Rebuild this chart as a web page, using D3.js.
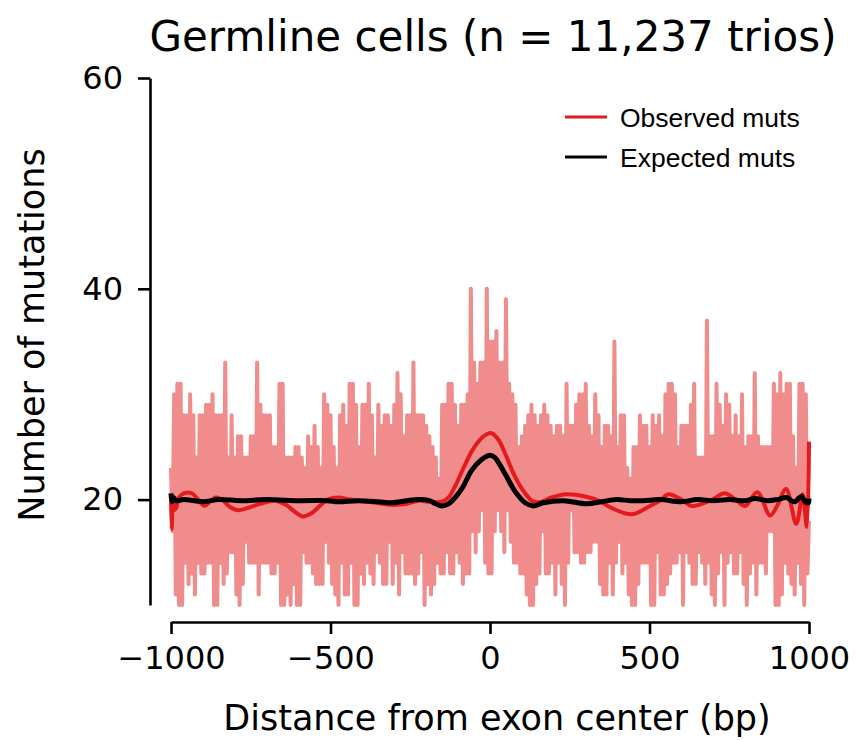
<!DOCTYPE html>
<html>
<head>
<meta charset="utf-8">
<script src="https://cdn.jsdelivr.net/npm/d3@7"></script>
<style>
  html, body { margin: 0; padding: 0; background: #fff; }
  svg { display: block; }
</style>
</head>
<body>
<svg id="chart" width="865" height="740"></svg>
<script>
// Per-base mutation counts around exon centres, sampled every 5 bp from -1000 to +1000.
const positionStart = -1000;
const positionStep = 5;
const observedCounts = [
  23,17, 30,11, 31,10, 31,10, 28,14, 28,12, 30,13, 28,11, 24,14, 28,13,
  28,13, 29,14, 29,14, 30,10, 28,10, 28,14, 28,12, 33,13, 24,15, 28,15,
  24,11, 26,10, 26,12, 24,16, 24,14, 26,14, 26,14, 33,11, 29,14, 28,14,
  28,14, 28,13, 25,13, 25,14, 31,10, 31,10, 24,11, 24,10, 24,12, 25,10,
  25,10, 24,15, 23,14, 26,14, 25,13, 27,12, 25,12, 23,12, 30,16, 29,14,
  28,12, 25,11, 23,10, 28,14, 29,11, 27,11, 31,14, 31,10, 29,10, 25,13,
  29,12, 29,14, 31,13, 28,12, 24,15, 29,14, 27,12, 28,12, 28,16, 27,12,
  29,14, 32,11, 30,15, 26,13, 28,13, 28,13, 33,12, 28,13, 28,15, 28,10,
  27,12, 26,11, 25,12, 24,14, 22,13, 29,13, 29,15, 31,13, 31,13, 29,15,
  27,14, 29,12, 29,13, 30,13, 40,17, 33,15, 31,17, 33,19, 33,14, 40,13,
  35,13, 35,17, 36,19, 33,17, 33,15, 39,19, 31,16, 30,14, 29,14, 25,13,
  26,13, 27,11, 28,10, 29,10, 28,12, 27,13, 28,17, 29,13, 28,13, 27,14,
  26,11, 27,14, 27,12, 26,10, 31,14, 27,19, 27,15, 29,15, 30,14, 30,14,
  31,15, 27,15, 26,16, 30,16, 28,12, 25,11, 27,11, 27,14, 26,11, 35,14,
  25,16, 28,13, 28,14, 23,11, 22,10, 25,10, 25,12, 28,14, 27,14, 27,14,
  25,10, 28,10, 27,15, 28,11, 26,11, 30,12, 31,13, 31,14, 30,14, 25,15,
  27,10, 27,15, 27,14, 29,12, 31,12, 24,15, 24,14, 24,12, 37,14, 26,11,
  26,10, 31,13, 29,15, 27,10, 30,14, 29,15, 26,13, 28,13, 26,15, 30,12,
  25,10, 26,13, 26,14, 32,11, 26,14, 25,14, 25,13, 25,17, 25,17, 31,10,
  30,10, 32,11, 30,14, 31,13, 31,12, 26,11, 23,14, 31,12, 31,10, 30,13,
  18
];

// Smoothed observed counts: [distance (bp), mutations]
const observedSmooth = [
  [-1000,20.3],[-998,17.2],[-994,19.6],[-990,19.0],[-984,19.2],[-975,20.2],[-960,20.6],
  [-935,20.6],[-910,19.8],[-895,19.4],[-878,19.8],[-860,20.2],[-840,20.0],[-815,19.3],
  [-791,19.0],[-760,19.2],[-720,19.6],[-676,19.9],[-640,19.5],[-610,18.8],[-587,18.4],
  [-560,18.7],[-530,19.5],[-509,20.0],[-475,20.2],[-440,20.0],[-412,19.9],[-360,19.7],
  [-308,19.5],[-260,19.6],[-224,19.9],[-190,19.8],[-150,19.8],[-130,20.2],[-109,21.3],
  [-83,23.0],[-57,24.6],[-31,25.7],[-10,26.2],[5,26.3],[26,25.7],[47,24.4],[78,22.2],
  [110,20.6],[136,19.8],[162,19.8],[193,20.2],[240,20.5],[298,20.3],[340,19.9],[381,19.2],
  [444,18.6],[496,19.3],[533,19.9],[559,20.5],[600,20.0],[632,19.4],[690,19.9],[736,20.6],
  [770,20.0],[800,19.4],[838,20.7],[878,18.5],[900,19.4],[928,21.0],[960,17.7],[980,20.5],
  [993,17.4],[1000,25.5]
];

// Smoothed expected counts: [distance (bp), mutations]
const expectedSmooth = [
  [-1000,20.6],[-997,19.8],[-992,20.2],[-985,19.9],[-960,20.0],[-900,19.8],[-850,20.0],
  [-780,19.9],[-700,20.0],[-600,19.9],[-510,19.9],[-475,19.8],[-412,19.9],[-350,19.8],
  [-308,19.7],[-260,19.9],[-224,20.0],[-190,19.9],[-170,19.6],[-151,19.4],[-130,19.6],
  [-109,20.2],[-85,21.2],[-57,22.8],[-26,23.8],[0,24.2],[15,24.0],[31,23.3],[50,22.3],
  [78,20.8],[110,19.7],[136,19.4],[167,19.7],[230,19.9],[303,19.6],[350,19.8],[397,20.0],
  [439,19.9],[480,19.9],[533,20.0],[600,19.8],[650,20.0],[700,19.9],[750,20.0],[800,19.9],
  [830,20.1],[870,19.9],[900,20.0],[930,20.2],[945,19.9],[956,19.8],[970,20.2],[977,20.3],
  [988,19.8],[998,19.7],[1000,20.1]
];

const xTicks = [-1000, -500, 0, 500, 1000];
const yTicks = [20, 40, 60];
const legendLabels = ["Observed muts", "Expected muts"];
const titleText = "Germline cells (n = 11,237 trios)";
const xLabel = "Distance from exon center (bp)";
const yLabel = "Number of mutations";

const RED = "#e41a1c";
const FONT = "'DejaVu Sans', sans-serif";

const svg = d3.select("#chart");

const x = d3.scaleLinear().domain([-1000, 1000]).range([171, 809]);
const y = d3.scaleLinear().domain([10, 60]).range([605, 78]);

const rawPoints = observedCounts.map((v, i) => [positionStart + i * positionStep, v]);

const line = d3.line().x(d => x(d[0])).y(d => y(d[1]));
const smoothLine = d3.line().x(d => x(d[0])).y(d => y(d[1]))
  .curve(d3.curveCatmullRom.alpha(0.5));

// raw per-position counts
svg.append("path")
  .datum(rawPoints)
  .attr("d", line)
  .attr("fill", "none")
  .attr("stroke", RED)
  .attr("stroke-opacity", 0.5)
  .attr("stroke-width", 4)
  .attr("stroke-linejoin", "round");

// smoothed observed
svg.append("path")
  .datum(observedSmooth)
  .attr("d", smoothLine)
  .attr("fill", "none")
  .attr("stroke", RED)
  .attr("stroke-width", 4)
  .attr("stroke-linejoin", "round");

// smoothed expected
svg.append("path")
  .datum(expectedSmooth)
  .attr("d", smoothLine)
  .attr("fill", "none")
  .attr("stroke", "#000")
  .attr("stroke-width", 5)
  .attr("stroke-linejoin", "round");

// axes
const yAxis = svg.append("g")
  .attr("transform", "translate(150,0)")
  .call(d3.axisLeft(y).tickValues(yTicks).tickSize(12).tickSizeOuter(0).tickPadding(15)
    .tickFormat(d3.format("d")));

const xAxis = svg.append("g")
  .attr("transform", "translate(0,622)")
  .call(d3.axisBottom(x).tickValues(xTicks).tickSize(12).tickSizeOuter(0).tickPadding(12)
    .tickFormat(d => d < 0 ? "\u2212" + Math.abs(d) : String(d)));

[xAxis, yAxis].forEach(g => {
  g.select(".domain").attr("stroke", "#000").attr("stroke-width", 2.6);
  g.selectAll(".tick line").attr("stroke", "#000").attr("stroke-width", 2.6);
  g.selectAll(".tick text")
    .attr("fill", "#000")
    .style("font-family", FONT)
    .style("font-size", "32px");
});

// title and axis labels
svg.append("text")
  .attr("x", 493).attr("y", 51)
  .attr("text-anchor", "middle")
  .style("font-family", FONT).style("font-size", "42px")
  .text(titleText);

svg.append("text")
  .attr("x", 497).attr("y", 730)
  .attr("text-anchor", "middle")
  .style("font-family", FONT).style("font-size", "35px")
  .text(xLabel);

svg.append("text")
  .attr("transform", "translate(44,335) rotate(-90)")
  .attr("text-anchor", "middle")
  .style("font-family", FONT).style("font-size", "35px")
  .text(yLabel);

// legend
const legendColors = [RED, "#000"];
const legend = svg.append("g").attr("transform", "translate(565,117)");
legendLabels.forEach((label, i) => {
  const row = legend.append("g").attr("transform", `translate(0,${i * 40})`);
  row.append("line")
    .attr("x1", 0).attr("x2", 42).attr("y1", 0).attr("y2", 0)
    .attr("stroke", legendColors[i]).attr("stroke-width", 3);
  row.append("text")
    .attr("x", 55).attr("y", 9.5)
    .style("font-family", "'Liberation Sans', Arial, sans-serif")
    .style("font-size", "26.5px")
    .text(label);
});
</script>
</body>
</html>
